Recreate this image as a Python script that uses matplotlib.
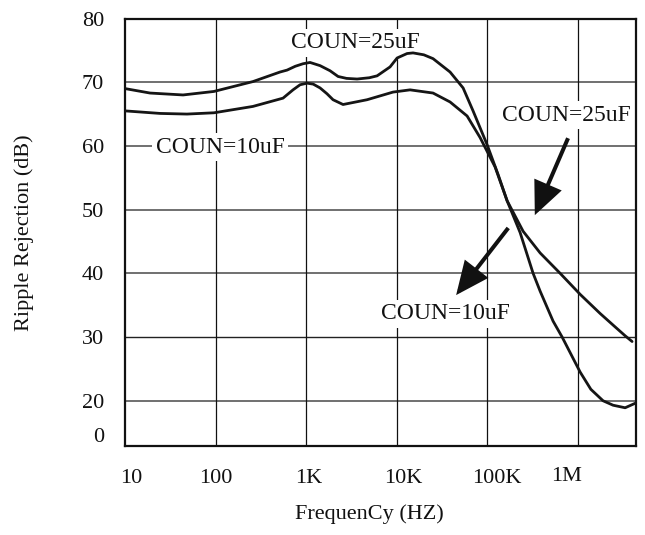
import matplotlib
matplotlib.use("Agg")
import matplotlib.pyplot as plt
from matplotlib.transforms import offset_copy
from matplotlib.patches import FancyArrowPatch

# ---------------- data ----------------
freq_25 = [10, 18.9, 43.8, 96, 259, 516, 617, 760, 927, 1107, 1429, 1841, 2259,
           2800, 3664, 5000, 6095, 8472, 10140, 13060, 15200, 20000, 25290,
           38990, 54330, 69980, 100000, 132400, 166300, 231700, 322400, 385500,
           535800, 674500, 1067000, 1400000, 1910000, 2466000, 3350000, 4315000]
rr_25 = [69.0, 68.3, 68.0, 68.55, 70.1, 71.6, 71.9, 72.5, 72.9, 73.1, 72.6, 71.8,
         70.9, 70.6, 70.5, 70.7, 71.0, 72.4, 73.8, 74.5, 74.6, 74.3, 73.7, 71.6,
         69.1, 65.5, 60.2, 55.5, 51.4, 46.4, 40.0, 37.2, 32.5, 30.0, 24.5, 21.8,
         20.0, 19.3, 18.9, 19.6]

freq_10 = [10, 24.4, 48.4, 96, 259, 557, 718, 859, 1026, 1200, 1429, 1700, 1987,
           2563, 4721, 9141, 14090, 25290, 38990, 60140, 83770, 122500, 166300,
           250100, 385500, 641500, 1067000, 1773000, 2594000, 3350000, 3999000]
rr_10 = [65.5, 65.1, 65.0, 65.2, 66.2, 67.5, 68.8, 69.6, 69.85, 69.7, 69.1, 68.2,
         67.25, 66.5, 67.25, 68.45, 68.8, 68.3, 66.9, 64.7, 61.3, 56.7, 51.4, 46.6,
         43.2, 40.0, 36.7, 33.7, 31.6, 30.2, 29.3]

x_ticks = [10, 100, 1e3, 1e4, 1e5, 1e6]
x_tick_labels = ["10", "100", "1K", "10K", "100K", "1M"]
y_ticks = [14.7, 20, 30, 40, 50, 60, 70, 80]
y_tick_labels = ["0", "20", "30", "40", "50", "60", "70", "80"]
h_grid = [20, 30, 40, 50, 60, 70]

# ---------------- style ----------------
plt.rcParams['font.family'] = ['Liberation Serif', 'DejaVu Serif']
FS = 16

fig = plt.figure(figsize=(6.45, 5.35), dpi=100)
ax = fig.add_axes([125 / 645, 89 / 535, 511 / 645, 427.5 / 535])
ax.set_xscale('log')
ax.set_xlim(10, 10 ** 6.645)
ax.set_ylim(12.9, 80)

# grid
for v in h_grid:
    if v == 30:
        ax.axhline(v, color='#222222', lw=1.0, zorder=1)
    else:
        ax.axhline(v, color='#707070', lw=1.4, zorder=1)
for f in x_ticks[1:]:
    ax.axvline(f, color='#111111', lw=0.9, zorder=1)

# curves
ax.plot(freq_25, rr_25, color='#151515', lw=2.0, zorder=4,
        solid_capstyle='round', solid_joinstyle='round')
ax.plot(freq_10, rr_10, color='#151515', lw=2.0, zorder=4,
        solid_capstyle='round', solid_joinstyle='round')

# axes styling
for s in ax.spines.values():
    s.set_linewidth(1.6)
    s.set_color('#111111')
ax.set_xticks([])
ax.xaxis.set_minor_locator(matplotlib.ticker.NullLocator())
ax.set_yticks(y_ticks)
ax.set_yticklabels(y_tick_labels)
ax.tick_params(axis='y', length=0, pad=15, labelsize=FS, colors='#111111')

# x tick labels with small offsets like the reference
x_off = [6, 0, 3, 7, 10, -11]
y_off = [0, 0, 0, 0, 0, 2]
for f, lab, dx, dy in zip(x_ticks, x_tick_labels, x_off, y_off):
    tr = offset_copy(ax.get_xaxis_transform(), fig=fig, x=dx, y=dy, units='dots')
    ax.text(f, -0.0873, lab, transform=tr, ha='center', va='baseline',
            fontsize=FS, color='#111111', clip_on=False)

ax.set_xlabel("FrequenCy (HZ)", fontsize=FS, color='#111111')
ax.xaxis.set_label_coords(0.479, -0.137)
ax.set_ylabel("Ripple Rejection (dB)", fontsize=FS, color='#111111')
ax.yaxis.set_label_coords(-0.179, 0.5)

# annotations
box = dict(boxstyle='square,pad=0.15', fc='white', ec='none')
AFS = 17
ax.text(0.451, 0.930, "COUN=25uF", transform=ax.transAxes, ha='center',
        va='baseline', fontsize=AFS, color='#111111', bbox=box, zorder=3)
ax.text(0.186, 0.686, "COUN=10uF", transform=ax.transAxes, ha='center',
        va='baseline', fontsize=AFS, color='#111111', bbox=box, zorder=3)
ax.text(0.863, 0.761, "COUN=25uF", transform=ax.transAxes, ha='center',
        va='baseline', fontsize=AFS, color='#111111', bbox=box, zorder=3)
ax.text(0.627, 0.296, "COUN=10uF", transform=ax.transAxes, ha='center',
        va='baseline', fontsize=AFS, color='#111111', bbox=box, zorder=3)

arrows = [((0.867, 0.720), (0.802, 0.540)),
          ((0.750, 0.510), (0.648, 0.353))]
for tail, tip in arrows:
    arr = FancyArrowPatch(tail, tip, transform=ax.transAxes,
                          arrowstyle='-|>,head_length=19,head_width=8.5',
                          mutation_scale=1, lw=2.9, color='#111111',
                          joinstyle='miter', capstyle='butt',
                          shrinkA=0, shrinkB=0, zorder=5)
    ax.add_patch(arr)

fig.savefig("out.png", dpi=100)
